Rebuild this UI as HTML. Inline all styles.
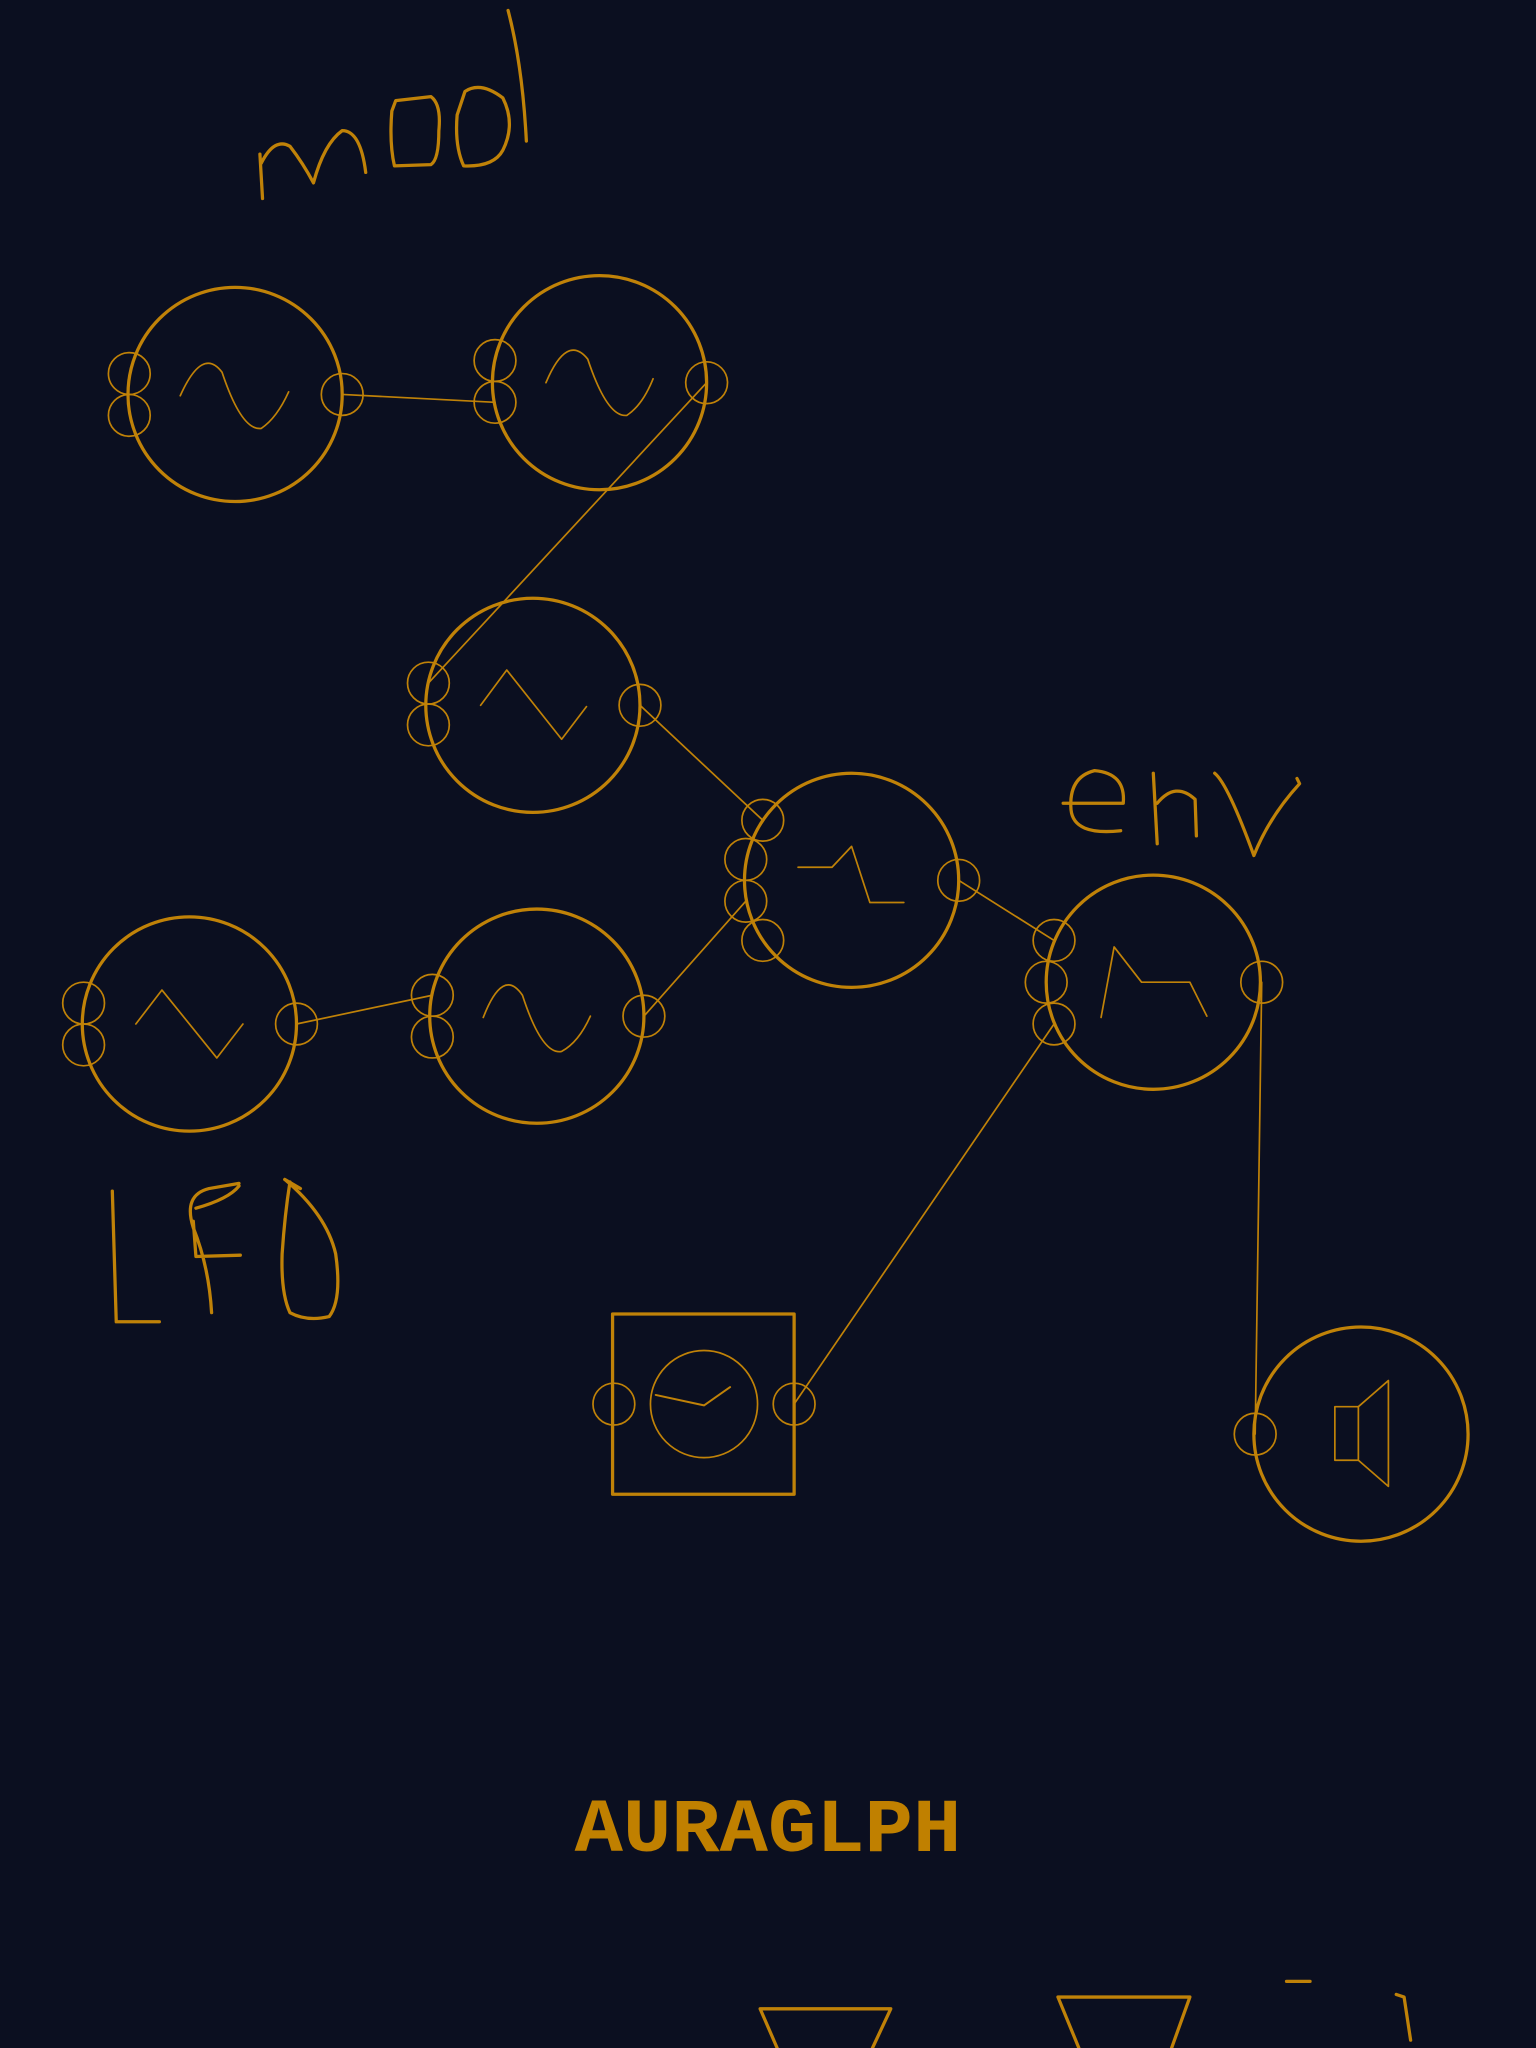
<!DOCTYPE html>
<html><head><meta charset="utf-8"><style>
html,body{margin:0;padding:0;background:#0b0f20;width:1536px;height:2048px;overflow:hidden}
svg{display:block}
</style></head><body>
<svg width="1536" height="2048" viewBox="0 0 1176 1568" xmlns="http://www.w3.org/2000/svg">
<rect width="1176" height="1568" fill="#0b0f20"/>
<g fill="none" stroke="#c08208" stroke-linecap="round" stroke-linejoin="round">
<!-- handwriting -->
<g stroke-width="2.5">
<path d="M201,152 L199,118 M200,125 Q210,105 222,112 Q232,125 240,140 Q248,110 262,100 Q276,100 280,132"/>
<path d="M303,77 L330,74 Q338,80 336,100 Q336,122 330,126 L302,127 Q298,110 300,85 Z"/>
<path d="M356,70 Q368,62 385,75 Q395,95 385,115 Q378,128 355,127 Q348,112 350,88 Z"/>
<path d="M389,8 Q400,50 403,108"/>
</g>
<g stroke-width="2.5">
<path d="M814,615 L860,615 Q862,592 838,590 Q818,595 820,620 Q822,640 858,636"/>
<path d="M883,592 L886,646 M886,615 Q900,598 915,612 L916,640"/>
<path d="M930,592 Q940,600 960,655 Q972,625 995,600 L993,596"/>
</g>
<g stroke-width="2.5">
<path d="M86,912 L89,1012 L122,1012"/>
<path d="M162,1005 Q160,970 148,940 Q140,915 160,910 L183,906 M150,925 Q175,918 183,908 M148,935 L150,962 L184,961"/>
<path d="M218,903 Q250,930 257,960 Q262,995 252,1008 Q235,1012 222,1005 Q215,990 216,960 Q218,930 222,905 M218,903 L230,910"/>
</g>
<!-- cables -->
<g stroke-width="1.3">
<line x1="262" y1="302" x2="379" y2="308"/>
<line x1="541" y1="293" x2="328" y2="523"/>
<line x1="490" y1="540" x2="584" y2="628"/>
<line x1="227" y1="784" x2="331" y2="762"/>
<line x1="493" y1="778" x2="571" y2="690"/>
<line x1="734" y1="674" x2="807" y2="720"/>
<line x1="608" y1="1075" x2="807" y2="784"/>
<line x1="966" y1="752" x2="961" y2="1098"/>
</g>
<!-- modules -->
<g>
<circle cx="180" cy="302" r="82" stroke-width="2.5"/>
<path d="M138,303 Q155,265 170,285 Q185,330 200,328 Q212,320 221,300" stroke-width="1.3"/>
<circle cx="99" cy="286" r="16" stroke-width="1.3"/><circle cx="99" cy="318" r="16" stroke-width="1.3"/><circle cx="262" cy="302" r="16" stroke-width="1.3"/>
</g>
<g>
<circle cx="459" cy="293" r="82" stroke-width="2.5"/>
<path d="M418,293 Q434,255 450,275 Q465,320 480,318 Q492,310 500,290" stroke-width="1.3"/>
<circle cx="379" cy="276" r="16" stroke-width="1.3"/><circle cx="379" cy="308" r="16" stroke-width="1.3"/><circle cx="541" cy="293" r="16" stroke-width="1.3"/>
</g>
<g>
<circle cx="408" cy="540" r="82" stroke-width="2.5"/>
<path d="M368,540 L388,513 L430,566 L449,541" stroke-width="1.3"/>
<circle cx="328" cy="523" r="16" stroke-width="1.3"/><circle cx="328" cy="555" r="16" stroke-width="1.3"/><circle cx="490" cy="540" r="16" stroke-width="1.3"/>
</g>
<g>
<circle cx="652" cy="674" r="82" stroke-width="2.5"/>
<path d="M611,664 L637,664 L652,648 L666,691 L692,691" stroke-width="1.3"/>
<circle cx="584" cy="628" r="16" stroke-width="1.3"/><circle cx="571" cy="658" r="16" stroke-width="1.3"/><circle cx="571" cy="690" r="16" stroke-width="1.3"/><circle cx="584" cy="720" r="16" stroke-width="1.3"/><circle cx="734" cy="674" r="16" stroke-width="1.3"/>
</g>
<g>
<circle cx="883" cy="752" r="82" stroke-width="2.5"/>
<path d="M843,779 L853,725 L874,752 L911,752 L924,778" stroke-width="1.3"/>
<circle cx="807" cy="720" r="16" stroke-width="1.3"/><circle cx="801" cy="752" r="16" stroke-width="1.3"/><circle cx="807" cy="784" r="16" stroke-width="1.3"/><circle cx="966" cy="752" r="16" stroke-width="1.3"/>
</g>
<g>
<circle cx="145" cy="784" r="82" stroke-width="2.5"/>
<path d="M104,784 L124,758 L166,810 L186,784" stroke-width="1.3"/>
<circle cx="64" cy="768" r="16" stroke-width="1.3"/><circle cx="64" cy="800" r="16" stroke-width="1.3"/><circle cx="227" cy="784" r="16" stroke-width="1.3"/>
</g>
<g>
<circle cx="411" cy="778" r="82" stroke-width="2.5"/>
<path d="M370,779 Q385,740 400,762 Q415,808 430,805 Q443,798 452,778" stroke-width="1.3"/>
<circle cx="331" cy="762" r="16" stroke-width="1.3"/><circle cx="331" cy="794" r="16" stroke-width="1.3"/><circle cx="493" cy="778" r="16" stroke-width="1.3"/>
</g>
<g>
<rect x="469" y="1006" width="139" height="138" stroke-width="2.5"/>
<circle cx="539" cy="1075" r="41" stroke-width="1.3"/>
<path d="M502,1068 L539,1076 L559,1062" stroke-width="1.5"/>
<circle cx="470" cy="1075" r="16" stroke-width="1.3"/><circle cx="608" cy="1075" r="16" stroke-width="1.3"/>
</g>
<g>
<circle cx="1042" cy="1098" r="82" stroke-width="2.5"/>
<path d="M1022,1077 L1040,1077 L1040,1118 L1022,1118 Z M1040,1077 L1063,1057 L1063,1138 L1040,1118" stroke-width="1.3"/>
<circle cx="961" cy="1098" r="16" stroke-width="1.3"/>
</g>
<!-- bottom toolbar -->
<path d="M582,1538 L682,1538 L668,1568 M582,1538 L595,1568" stroke-width="2.5"/>
<path d="M810,1529 L911,1529 L897,1568 M810,1529 L826,1568" stroke-width="2.5"/>
<path d="M985,1517 L1003,1517" stroke-width="2.5"/>
<path d="M1069,1527 L1075,1529 L1080,1562" stroke-width="2.5"/>
</g>
<text x="440" y="1417" font-family="Liberation Mono, monospace" font-weight="bold" font-size="58" fill="#c08000" textLength="296" lengthAdjust="spacingAndGlyphs">AURAGLPH</text>
</svg>
</body></html>
